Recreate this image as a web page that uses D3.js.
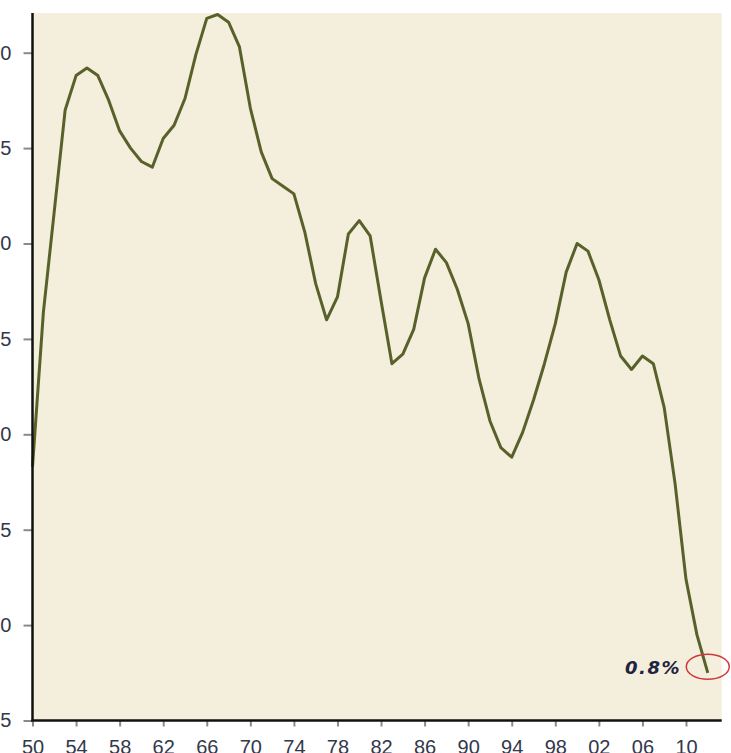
<!DOCTYPE html>
<html>
<head>
<meta charset="utf-8">
<script src="https://cdn.jsdelivr.net/npm/d3@7"></script>
<style>
  html, body { margin: 0; padding: 0; background: #ffffff; overflow: hidden; }
  svg { display: block; }
</style>
</head>
<body>
<svg id="chart" width="731" height="753"></svg>
<script>
// ---- data ----
const years = d3.range(1950, 2013);
const values = [
  1.83, 2.64, 3.17, 3.70, 3.88, 3.92, 3.88, 3.75, 3.59, 3.50,
  3.43, 3.40, 3.55, 3.62, 3.76, 3.99, 4.18, 4.20, 4.16, 4.03,
  3.71, 3.48, 3.34, 3.30, 3.26, 3.06, 2.79, 2.60, 2.72, 3.05,
  3.12, 3.04, 2.70, 2.37, 2.42, 2.55, 2.82, 2.97, 2.90, 2.76,
  2.58, 2.29, 2.07, 1.93, 1.88, 2.01, 2.18, 2.37, 2.58, 2.85,
  3.00, 2.96, 2.81, 2.60, 2.41, 2.34, 2.41, 2.37, 2.14, 1.74,
  1.24, 0.95, 0.75
];
const xTickYears = d3.range(1950, 2011, 4);
const yTickValues = [0.5, 1.0, 1.5, 2.0, 2.5, 3.0, 3.5, 4.0];
const annotationText = "0.8%";

// ---- layout ----
const svg = d3.select("#chart");
const mLeft = 32.5, mRight = 721.7, mTop = 13, mBottom = 720.5;

const x = d3.scaleLinear().domain([1950, 2010]).range([mLeft, 686]);
const y = d3.scaleLinear().domain([0.5, 4.0]).range([mBottom, 52.7]);

// plot background
svg.append("rect")
  .attr("x", mLeft).attr("y", mTop)
  .attr("width", mRight - mLeft).attr("height", mBottom - mTop)
  .attr("fill", "#f4eedc");

// line
const data = years.map((yr, i) => ({ yr, v: values[i] }));
svg.append("path")
  .datum(data)
  .attr("fill", "none")
  .attr("stroke", "#58612a")
  .attr("stroke-width", 3)
  .attr("stroke-linejoin", "round")
  .attr("d", d3.line().x(d => x(d.yr)).y(d => y(d.v)));

// y axis
const yAxis = svg.append("g")
  .attr("transform", `translate(${mLeft},0)`)
  .call(d3.axisLeft(y).tickValues(yTickValues).tickFormat(d3.format(".1f")).tickSize(9).tickPadding(12));
yAxis.select(".domain").remove();
yAxis.selectAll(".tick line").attr("stroke", "#8a8a8a").attr("stroke-width", 2);
yAxis.selectAll(".tick text")
  .attr("font-family", "Liberation Sans, Arial, sans-serif")
  .attr("font-size", 20).attr("fill", "#33384a");
svg.append("line")
  .attr("x1", mLeft).attr("x2", mLeft).attr("y1", mTop).attr("y2", mBottom + 1.5)
  .attr("stroke", "#111").attr("stroke-width", 2.5);

// x axis
const xAxis = svg.append("g")
  .attr("transform", `translate(0,${mBottom})`)
  .call(d3.axisBottom(x).tickValues(xTickYears)
    .tickFormat(d => String(d % 100).padStart(2, "0")).tickSize(6).tickPadding(13));
xAxis.select(".domain").remove();
xAxis.selectAll(".tick line").attr("stroke", "#8a8a8a").attr("stroke-width", 2);
xAxis.selectAll(".tick text")
  .attr("font-family", "Liberation Sans, Arial, sans-serif")
  .attr("font-size", 20).attr("fill", "#33384a");
svg.append("line")
  .attr("x1", mLeft - 1).attr("x2", mRight).attr("y1", mBottom).attr("y2", mBottom)
  .attr("stroke", "#111").attr("stroke-width", 2.5);

// annotation
const last = data[data.length - 1];
svg.append("ellipse")
  .attr("cx", x(last.yr)).attr("cy", y(last.v) - 6)
  .attr("rx", 21.5).attr("ry", 12.5)
  .attr("fill", "none").attr("stroke", "#d0393b").attr("stroke-width", 1.5);
svg.append("text")
  .attr("x", 681).attr("y", 674)
  .attr("text-anchor", "end")
  .attr("font-family", "DejaVu Sans, Verdana, sans-serif")
  .attr("font-weight", "bold").attr("font-style", "italic")
  .attr("font-size", 18)
  .attr("letter-spacing", 1.5)
  .attr("fill", "#1e2340")
  .text(annotationText);
</script>
</body>
</html>
